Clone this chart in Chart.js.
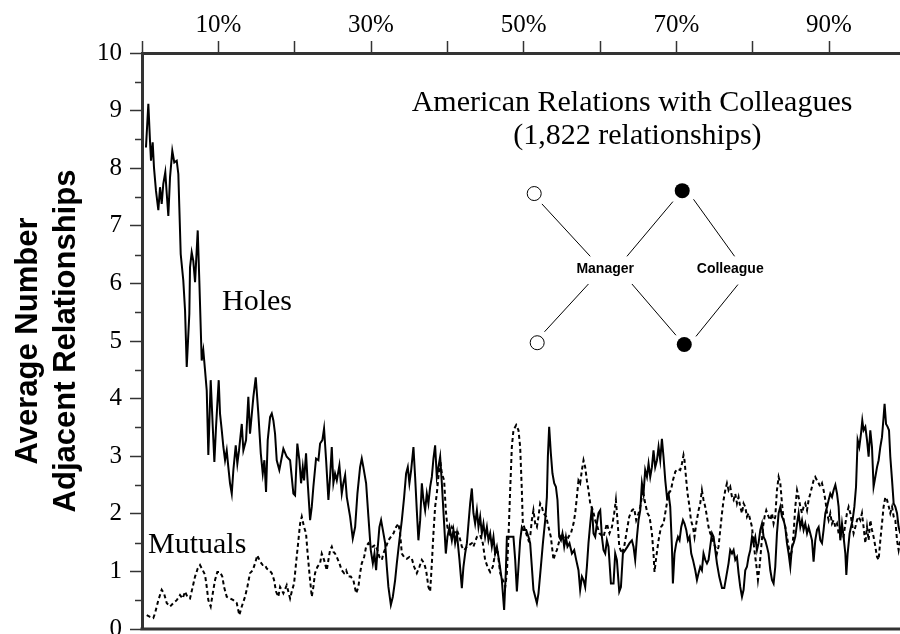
<!DOCTYPE html>
<html>
<head>
<meta charset="utf-8">
<title>American Relations with Colleagues</title>
<script src="https://cdn.jsdelivr.net/npm/chart.js@4.4.1/dist/chart.umd.min.js"></script>
<style>
  html, body { margin: 0; padding: 0; background: #fff; }
  canvas { display: block; }
</style>
</head>
<body>
<canvas id="chart" width="900" height="634"></canvas>
<script>
// percent of relationships (x) and average number of adjacent relationships (y)
const holesPct = [0.52,0.83,1.05,1.18,1.40,1.57,1.83,2.14,2.36,2.58,2.79,3.05,3.24,3.45,3.67,3.97,4.23,4.55,4.76,4.89,
  5.07,5.41,5.64,5.86,6.20,6.29,6.51,6.72,6.95,7.30,7.51,7.69,7.82,8.03,8.26,8.48,8.69,9.00,9.27,9.48,
  9.70,9.87,10.05,10.22,10.45,10.66,10.88,11.10,11.31,11.53,11.76,11.97,12.28,12.49,12.71,13.07,13.28,13.63,13.93,14.15,
  14.59,14.90,15.24,15.56,15.82,16.03,16.25,16.47,16.78,17.00,17.21,17.43,17.65,17.99,18.52,18.96,19.40,19.83,20.05,20.35,
  20.62,20.84,21.06,21.23,21.49,21.66,22.02,22.24,22.45,22.80,23.11,23.33,23.63,23.85,24.12,24.42,24.64,24.86,25.07,25.29,
  25.52,25.86,26.17,26.38,26.61,26.83,27.26,27.61,27.92,28.22,28.57,28.79,29.00,29.36,29.66,29.97,30.24,30.45,30.67,30.89,
  31.10,31.32,31.55,31.85,32.07,32.28,32.60,32.86,33.16,33.38,33.72,34.04,34.34,34.60,34.82,35.03,35.26,35.56,35.78,36.00,
  36.21,36.44,36.66,36.87,37.09,37.31,37.52,37.75,37.97,38.18,38.40,38.62,38.83,39.06,39.28,39.58,39.80,40.01,40.28,40.59,
  40.80,41.02,41.25,41.59,41.90,42.11,42.33,42.56,42.77,42.99,43.21,43.42,43.64,43.87,44.08,44.30,44.52,44.73,44.95,45.18,
  45.39,45.61,45.83,46.04,46.26,46.49,46.83,47.14,47.44,47.67,47.80,48.23,48.66,48.89,49.11,49.32,49.54,49.76,49.97,50.33,
  50.63,50.85,51.07,51.28,51.73,51.94,52.25,52.52,52.82,53.04,53.17,53.34,53.56,53.77,54.00,54.22,54.43,54.65,54.88,55.08,
  55.31,55.53,55.74,56.00,56.32,56.62,56.88,57.18,57.40,57.63,57.84,58.06,58.28,58.49,58.72,58.94,59.15,59.37,59.59,59.80,
  60.03,60.25,60.46,60.68,60.90,61.11,61.43,61.77,61.99,62.21,62.52,62.74,63.00,63.30,63.60,63.87,64.18,64.39,64.61,64.84,
  65.05,65.27,65.49,65.70,65.92,66.15,66.36,66.58,66.80,67.01,67.23,67.46,67.67,67.89,68.11,68.32,68.55,68.77,68.98,69.20,
  69.42,69.55,69.76,69.99,70.21,70.42,70.64,70.87,71.07,71.30,71.52,71.73,71.95,72.18,72.48,72.70,72.91,73.13,73.35,73.56,
  73.79,74.01,74.22,74.44,74.67,74.88,75.10,75.32,75.62,75.98,76.28,76.54,76.84,77.06,77.29,77.50,77.72,77.94,78.15,78.37,
  78.60,78.81,79.03,79.25,79.46,79.69,79.91,80.12,80.34,80.56,80.77,81.00,81.22,81.43,81.65,81.87,82.08,82.31,82.53,82.74,
  82.96,83.18,83.40,83.62,83.84,84.05,84.27,84.49,84.71,84.93,85.15,85.36,85.58,85.81,86.02,86.24,86.46,86.67,86.89,87.12,
  87.33,87.55,87.77,87.98,88.20,88.43,88.64,88.86,89.08,89.29,89.52,89.74,89.95,90.17,90.39,90.60,90.83,91.05,91.26,91.48,
  91.70,91.91,92.14,92.27,92.44,92.70,92.88,93.09,93.32,93.54,93.75,93.97,94.19,94.36,94.53,94.76,94.98,95.19,95.41,95.63,
  95.84,96.07,96.29,96.50,96.72,96.94,97.15,97.28,97.47,97.68,97.86,98.03,98.26,98.47,98.69,98.91,99.12,99.34];
const holesAvg = [8.36,9.12,8.47,8.13,8.45,8.01,7.61,7.27,7.67,7.38,7.73,7.93,7.56,7.17,7.84,8.30,8.10,8.13,7.90,7.32,
  6.51,6.05,5.53,4.55,5.47,6.28,6.54,6.39,6.02,6.92,6.05,5.24,4.66,4.84,4.49,4.14,3.02,4.32,3.51,2.90,
  3.51,3.91,4.32,3.74,3.45,3.16,2.93,3.10,2.81,2.53,2.35,2.76,3.19,2.87,3.10,3.56,3.10,3.28,4.03,3.39,
  4.03,4.37,3.74,3.05,2.70,2.93,2.38,3.28,3.68,3.74,3.62,3.39,2.93,2.76,3.13,2.99,2.93,2.35,2.32,3.22,
  2.93,2.53,2.81,2.58,3.05,2.64,1.89,2.12,2.47,2.96,2.93,3.22,3.28,3.48,2.93,2.24,2.64,3.16,2.53,2.70,
  2.58,2.84,2.35,2.53,2.67,2.29,1.95,1.57,1.77,2.35,2.81,2.96,2.81,2.53,1.95,1.37,1.14,1.31,1.02,1.43,
  1.77,1.89,1.72,1.49,1.08,0.73,0.42,0.56,0.85,1.14,1.54,1.89,2.29,2.70,2.81,2.53,2.76,3.16,2.64,2.06,
  1.54,1.89,2.53,2.24,2.06,2.35,2.18,2.47,2.64,2.96,3.19,2.64,2.81,2.99,2.53,1.83,1.31,1.60,1.77,1.54,
  1.72,1.49,1.66,1.20,0.71,1.08,1.31,1.49,1.83,2.18,2.44,2.01,1.83,2.06,1.77,1.95,1.66,1.83,1.60,1.77,
  1.54,1.66,1.43,1.60,1.31,1.43,1.14,0.85,0.33,1.02,1.60,1.60,1.60,1.20,0.65,1.08,1.54,1.77,1.72,1.72,
  1.60,1.49,1.08,0.68,0.45,0.62,1.08,1.49,1.89,2.29,2.99,3.51,3.05,2.70,2.53,2.47,2.24,1.60,1.54,1.66,
  1.43,1.60,1.43,1.49,1.31,1.37,1.20,1.02,0.68,0.91,0.85,0.73,1.08,1.49,1.83,2.12,1.66,1.60,1.83,2.01,
  2.06,1.60,1.37,1.31,1.54,1.43,0.79,0.79,1.31,1.20,0.65,0.73,1.31,1.37,1.43,1.49,1.54,1.43,1.20,1.60,
  1.89,2.06,2.53,2.35,2.76,2.64,2.87,2.64,2.81,3.10,2.81,2.93,3.16,2.93,3.30,2.99,2.58,2.29,2.35,2.12,
  1.43,0.79,1.31,1.49,1.60,1.54,1.77,1.89,1.83,1.72,1.54,1.60,1.31,1.20,1.02,0.85,0.97,1.08,1.02,1.31,
  1.20,1.14,1.20,1.43,1.66,1.60,1.37,1.14,0.91,0.71,0.71,0.91,1.14,1.37,1.31,1.37,1.20,1.25,0.97,0.73,
  0.56,0.68,1.02,1.08,1.25,1.37,1.60,1.49,1.60,1.37,1.49,1.72,1.83,1.60,1.54,1.43,1.31,1.02,0.85,0.79,
  1.08,1.66,2.01,2.12,1.95,1.89,1.77,1.49,1.31,1.08,1.43,1.49,1.60,1.83,2.01,1.77,1.89,1.72,1.83,1.66,
  1.77,1.66,1.54,1.17,1.54,1.72,1.77,1.54,1.49,1.72,2.01,2.12,2.24,2.35,2.29,2.41,2.50,2.35,2.12,1.54,
  1.83,1.60,1.31,0.94,1.31,1.66,1.77,1.89,2.12,2.47,3.28,3.16,3.39,3.62,3.45,3.51,3.28,2.99,3.45,3.16,
  2.47,2.64,2.81,2.93,3.16,3.33,3.68,3.91,3.56,3.51,3.45,2.99,2.58,2.18,2.12,2.01,1.77,1.66];

const mutualsPct = [0.62,1.05,1.48,1.70,2.14,2.58,2.88,3.24,3.67,4.10,4.55,4.98,5.33,5.64,5.94,6.29,6.64,6.95,7.30,7.60,
  7.96,8.26,8.48,8.69,9.00,9.27,9.57,9.87,10.22,10.52,10.75,11.10,11.53,11.97,12.41,12.75,13.07,13.50,13.80,14.15,
  14.51,14.81,15.11,15.47,15.82,16.12,16.34,16.68,17.00,17.30,17.56,17.86,18.09,18.52,18.96,19.40,19.62,19.92,20.18,20.49,
  20.71,20.93,21.23,21.49,21.66,21.93,22.24,22.45,22.67,22.98,23.33,23.55,23.85,24.21,24.42,24.64,24.86,25.07,25.29,25.52,
  25.86,26.17,26.47,26.74,27.04,27.35,27.69,28.05,28.35,28.57,28.79,29.10,29.36,29.66,29.97,30.24,30.54,30.84,31.10,31.42,
  31.62,31.98,32.28,32.60,32.94,33.29,33.59,33.81,34.04,34.34,34.69,35.03,35.35,35.65,36.00,36.34,36.66,36.96,37.22,37.52,
  37.75,37.97,38.18,38.40,38.62,38.83,39.06,39.28,39.58,39.80,40.01,40.28,40.59,40.89,41.25,41.59,41.90,42.20,42.56,42.90,
  43.21,43.42,43.87,44.30,44.65,44.95,45.26,45.61,45.96,46.26,46.57,46.92,47.27,47.58,47.80,48.01,48.23,48.45,48.66,49.02,
  49.32,49.54,49.76,49.89,50.07,50.33,50.63,50.85,51.07,51.28,51.51,51.73,51.94,52.16,52.39,52.60,52.95,53.25,53.56,53.91,
  54.13,54.35,54.69,55.01,55.22,55.57,55.87,56.19,56.53,56.75,56.97,57.18,57.40,57.63,57.84,58.06,58.28,58.49,58.72,59.07,
  59.37,59.67,59.93,60.46,60.90,61.24,61.56,61.86,62.08,62.29,62.52,62.87,63.17,63.53,63.83,64.18,64.48,64.74,65.05,65.27,
  65.62,65.92,66.22,66.49,66.80,67.01,67.14,67.37,67.67,67.98,68.32,68.68,68.98,69.29,69.55,69.86,70.16,70.51,70.73,70.94,
  71.07,71.30,71.47,71.73,71.91,72.18,72.38,72.61,72.91,73.13,73.35,73.56,73.79,74.01,74.22,74.44,74.67,74.88,75.10,75.32,
  75.53,75.75,75.98,76.19,76.41,76.63,76.84,77.06,77.29,77.50,77.72,77.94,78.15,78.37,78.60,78.81,79.03,79.25,79.46,79.69,
  79.91,80.12,80.34,80.56,80.69,80.90,81.13,81.35,81.56,81.78,82.08,82.31,82.53,82.74,82.96,83.18,83.40,83.62,83.84,84.05,
  84.27,84.49,84.71,84.93,85.15,85.36,85.58,85.81,86.02,86.24,86.46,86.67,86.89,87.12,87.33,87.55,87.77,87.98,88.20,88.43,
  88.64,88.86,89.08,89.29,89.52,89.74,89.95,90.17,90.39,90.60,90.83,91.05,91.26,91.48,91.70,91.91,92.14,92.35,92.57,92.79,
  93.01,93.22,93.45,93.67,93.88,94.10,94.32,94.53,94.76,94.98,95.19,95.41,95.63,95.84,96.07,96.29,96.50,96.72,96.94,97.15,
  97.38,97.60,97.84,98.03,98.26,98.47,98.69,98.91,99.12,99.34];
const mutualsAvg = [0.24,0.21,0.19,0.27,0.50,0.68,0.62,0.45,0.39,0.45,0.50,0.59,0.53,0.65,0.56,0.53,0.73,0.91,1.05,1.11,
  1.02,0.94,0.73,0.50,0.39,0.62,0.85,0.99,0.99,0.91,0.73,0.56,0.53,0.50,0.45,0.24,0.39,0.56,0.73,0.97,
  1.02,1.14,1.28,1.17,1.11,1.11,1.05,1.02,0.97,0.85,0.65,0.56,0.73,0.62,0.76,0.53,0.65,0.79,1.14,1.54,
  1.83,1.95,1.77,1.66,1.37,0.97,0.56,0.73,0.97,1.08,1.14,1.31,1.20,1.02,1.20,1.37,1.43,1.34,1.31,1.25,
  1.14,1.02,0.97,1.02,0.91,0.91,0.85,0.62,0.73,0.97,1.14,1.25,1.43,1.49,1.43,1.43,1.46,1.37,1.25,1.20,
  1.31,1.43,1.54,1.60,1.66,1.77,1.83,1.66,1.31,1.25,1.22,1.25,1.22,1.08,0.97,1.08,1.20,1.14,1.02,0.73,
  0.65,1.14,1.66,2.12,2.35,2.64,2.93,2.70,2.58,2.06,1.77,1.66,1.77,1.66,1.72,1.60,1.43,1.37,1.43,1.46,
  1.49,1.43,1.60,1.63,1.49,1.20,1.08,0.99,1.08,1.31,1.37,0.97,0.85,0.73,0.97,1.60,2.41,3.16,3.45,3.54,
  3.45,3.16,2.41,1.83,1.77,1.66,1.54,1.60,1.89,2.06,1.83,1.77,1.95,2.18,2.12,2.01,1.95,1.77,1.60,1.20,
  1.31,1.37,1.54,1.66,1.60,1.49,1.60,1.66,1.83,2.01,2.29,2.58,2.53,2.76,2.93,2.81,2.58,2.41,2.18,2.06,
  1.89,1.77,1.66,1.60,1.83,1.66,1.77,2.01,2.24,1.89,1.43,1.31,1.43,1.72,1.95,2.06,2.09,1.89,2.01,2.12,
  2.41,2.18,2.01,1.95,1.66,1.31,0.99,1.25,1.54,1.77,1.83,2.12,2.35,2.41,2.58,2.73,2.78,2.76,2.87,3.02,
  2.93,2.58,2.35,2.12,1.89,1.77,1.60,1.83,2.06,2.18,2.41,2.24,2.12,1.95,1.77,1.66,1.60,1.49,1.43,1.31,
  1.43,1.72,2.01,2.24,2.41,2.53,2.41,2.47,2.29,2.24,2.35,2.18,2.29,2.12,2.01,2.18,2.12,1.95,2.01,1.89,
  1.77,1.49,1.25,1.02,0.85,1.08,1.43,1.77,1.95,2.06,1.95,1.89,2.01,1.83,1.95,2.41,2.64,2.53,2.18,1.89,
  1.77,1.60,1.43,1.25,1.37,1.66,2.12,2.41,2.29,2.12,2.01,2.12,2.18,2.06,2.24,2.35,2.47,2.58,2.64,2.58,
  2.53,2.47,2.53,2.41,2.24,2.01,1.89,2.01,1.83,1.89,1.77,1.83,1.66,1.60,1.72,1.60,1.83,2.01,2.12,2.01,
  1.83,1.66,1.77,1.89,1.95,1.89,2.01,1.77,1.49,1.77,1.54,1.89,1.72,1.60,1.43,1.25,1.20,1.54,1.83,2.12,
  2.29,2.24,2.12,2.01,2.12,1.95,1.89,1.54,1.37,1.54];

const xMax = 99.3;
const yMax = 10;
const axisTitle = ['Average Number', 'Adjacent Relationships'];
const chartTitle = ['American Relations with Colleagues', '(1,822 relationships)'];

// small network sketch: [x%, y, filled]
const diagramNodes = [[51.38, 7.56, false], [70.77, 7.61, true], [51.77, 4.97, false], [71.04, 4.94, true]];
const diagramEdges = [
  [52.39, 7.38, 58.72, 6.47], [63.53, 6.47, 69.55, 7.42], [72.25, 7.46, 77.63, 6.47],
  [58.49, 5.99, 52.73, 5.16], [64.18, 5.99, 69.95, 5.10], [78.07, 5.98, 72.57, 5.08]
];
const diagramLabels = [['Manager', 60.68, 6.24], ['Colleague', 77.06, 6.24]];

function toPoints(xs, ys) {
  return xs.map((v, i) => ({x: v, y: ys[i]}));
}

const serif = '"Liberation Serif", "Times New Roman", serif';
const sans = '"Liberation Sans", Arial, sans-serif';

// bottom axis line and the shorter ticks at the half values of the y axis
const extraAxis = {
  id: 'extraAxis',
  afterDraw(chart) {
    const ctx = chart.ctx;
    const x = chart.scales.x, y = chart.scales.y;
    const left = chart.chartArea.left;
    ctx.save();
    ctx.strokeStyle = '#333';
    ctx.lineWidth = 3;
    const py0 = y.getPixelForValue(0);
    ctx.beginPath();
    ctx.moveTo(left - 1.5, py0);
    ctx.lineTo(x.getPixelForValue(xMax) + 2, py0);
    ctx.stroke();
    ctx.lineWidth = 1.5;
    for (let v = 0.5; v < yMax; v += 1) {
      const py = Math.round(y.getPixelForValue(v)) + 0.5;
      ctx.beginPath();
      ctx.moveTo(left - 7, py);
      ctx.lineTo(left, py);
      ctx.stroke();
    }
    ctx.restore();
  }
};

const notes = {
  id: 'notes',
  afterDatasetsDraw(chart) {
    const ctx = chart.ctx;
    const x = chart.scales.x, y = chart.scales.y;
    ctx.save();
    ctx.fillStyle = '#000';
    ctx.textBaseline = 'alphabetic';
    ctx.font = '30px ' + serif;
    ctx.textAlign = 'center';
    ctx.fillText(chartTitle[0], x.getPixelForValue(64.2), y.getPixelForValue(9.0));
    ctx.fillText(chartTitle[1], x.getPixelForValue(64.9), y.getPixelForValue(8.42));
    ctx.fillText('Holes', x.getPixelForValue(15.07), y.getPixelForValue(5.53));
    ctx.textAlign = 'left';
    ctx.fillText('Mutuals', x.getPixelForValue(0.79), y.getPixelForValue(1.32));

    // diagram
    ctx.strokeStyle = '#000';
    ctx.lineWidth = 1;
    diagramEdges.forEach(e => {
      ctx.beginPath();
      ctx.moveTo(x.getPixelForValue(e[0]), y.getPixelForValue(e[1]));
      ctx.lineTo(x.getPixelForValue(e[2]), y.getPixelForValue(e[3]));
      ctx.stroke();
    });
    diagramNodes.forEach(n => {
      ctx.beginPath();
      ctx.arc(x.getPixelForValue(n[0]), y.getPixelForValue(n[1]), n[2] ? 7.5 : 7, 0, Math.PI * 2);
      if (n[2]) { ctx.fill(); } else { ctx.fillStyle = '#fff'; ctx.fill(); ctx.fillStyle = '#000'; ctx.stroke(); }
    });
    ctx.font = 'bold 14px ' + sans;
    ctx.textAlign = 'center';
    ctx.textBaseline = 'middle';
    diagramLabels.forEach(l => {
      ctx.fillText(l[0], x.getPixelForValue(l[1]), y.getPixelForValue(l[2]));
    });
    ctx.restore();
  }
};

new Chart(document.getElementById('chart'), {
  type: 'line',
  data: {
    datasets: [
      {
        label: 'Holes',
        data: toPoints(holesPct, holesAvg),
        borderColor: '#000',
        borderWidth: 2,
        pointRadius: 0,
        tension: 0
      },
      {
        label: 'Mutuals',
        data: toPoints(mutualsPct, mutualsAvg),
        borderColor: '#000',
        borderWidth: 2,
        borderDash: [4, 3],
        pointRadius: 0,
        tension: 0
      }
    ]
  },
  options: {
    responsive: false,
    animation: false,
    devicePixelRatio: 1,
    layout: {autoPadding: false, padding: {top: 9, left: 0, right: 0, bottom: 5}},
    plugins: {
      legend: {display: false},
      tooltip: {enabled: false}
    },
    scales: {
      x: {
        type: 'linear',
        position: 'top',
        min: 0,
        max: xMax,
        ticks: {
          stepSize: 10,
          includeBounds: false,
          autoSkip: false,
          maxRotation: 0,
          padding: 1,
          color: '#000',
          font: {family: serif, size: 25},
          callback: v => (v % 20 === 10 ? v + '%' : '')
        },
        grid: {drawOnChartArea: false, tickLength: 12, tickColor: '#333', tickWidth: 1.5},
        border: {color: '#333', width: 3}
      },
      y: {
        min: 0,
        max: yMax,
        // the "0" label is allowed to run off the bottom edge, as in the original
        afterFit: s => { s.paddingBottom = 0; s.paddingTop = 0; },
        ticks: {
          stepSize: 0.5,
          autoSkip: false,
          padding: 8,
          color: '#000',
          font: {family: serif, size: 25},
          callback: v => (v % 1 === 0 ? String(v) : '')
        },
        grid: {
          drawOnChartArea: false,
          tickLength: 12,
          tickWidth: 1.5,
          tickColor: c => (c.tick && c.tick.value % 1 === 0 ? '#333' : 'rgba(0,0,0,0)')
        },
        border: {color: '#333', width: 3},
        title: {
          display: true,
          text: axisTitle,
          color: '#000',
          font: {family: sans, size: 31, weight: 'bold', lineHeight: '38px'},
          padding: {top: 9, bottom: 4}
        }
      }
    }
  },
  plugins: [extraAxis, notes]
});
</script>
</body>
</html>
